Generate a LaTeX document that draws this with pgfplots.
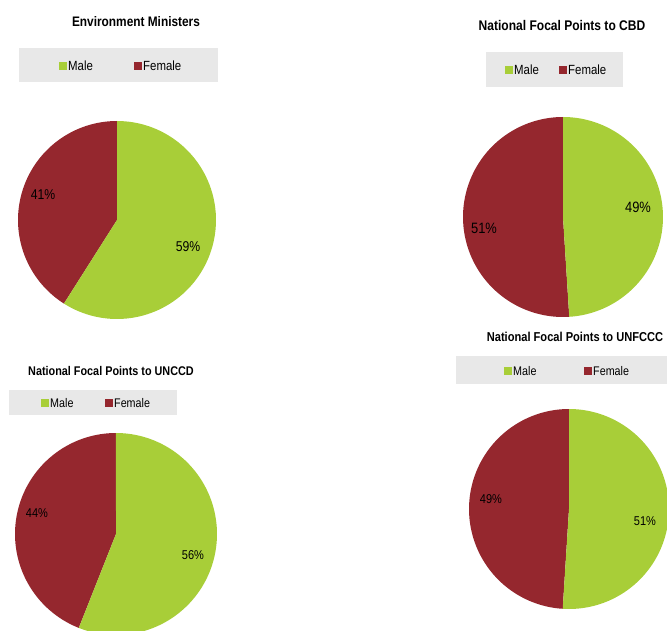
\documentclass[border=0pt]{standalone}
\usepackage{fontspec}
\setmainfont{Liberation Sans}[FakeStretch=0.86]
\usepackage{pgfplots}
\pgfplotsset{compat=1.18}
\definecolor{malec}{HTML}{A8CE38}
\definecolor{femalec}{HTML}{95272E}
\definecolor{legbg}{HTML}{E8E8E8}

% one pie: centre x, centre y, radius, male share (percent)
\newcommand{\pie}[4]{%
  \addplot[draw=none,fill=femalec,domain={90}:{90+3.6*(100-#4)},samples=90]
    ({#1+#3*cos(x)},{#2-#3*sin(x)}) -- (axis cs:#1,#2) -- cycle;
  \addplot[draw=none,fill=malec,domain={90-3.6*#4}:{90},samples=90]
    ({#1+#3*cos(x)},{#2-#3*sin(x)}) -- (axis cs:#1,#2) -- cycle;
}
% legend box: x0,y0,x1,y1, male square x, female square x, square top y, font size
\newcommand{\legbox}[8]{%
  \fill[legbg] (axis cs:#1,#2) rectangle (axis cs:#3,#4);
  \fill[malec] (axis cs:#5,#7) rectangle (axis cs:#5+8,#7+8);
  \node[anchor=west,inner sep=0pt,font=\fontsize{#8}{#8}\selectfont] at (axis cs:#5+9,#7+4) {Male};
  \fill[femalec] (axis cs:#6,#7) rectangle (axis cs:#6+8,#7+8);
  \node[anchor=west,inner sep=0pt,font=\fontsize{#8}{#8}\selectfont] at (axis cs:#6+9,#7+4) {Female};
}
\newcommand{\lab}[4]{\node[inner sep=0pt,font=\fontsize{#3}{#3}\selectfont] at (axis cs:#1,#2) {#4};}
\newcommand{\ttl}[4]{\node[inner sep=0pt,font=\bfseries\fontsize{#3}{#3}\selectfont] at (axis cs:#1,#2) {#4};}

\begin{document}
\begin{tikzpicture}
\begin{axis}[
  scale only axis,width=667pt,height=631pt,
  xmin=0,xmax=667,ymin=0,ymax=631,y dir=reverse,
  hide axis]

% Environment Ministers: 59 / 41
\pie{117}{220}{99}{59}
% National Focal Points to CBD: 49 / 51
\pie{563}{217}{100}{49}
% National Focal Points to UNCCD: 56 / 44
\pie{116}{534}{101}{56}
% National Focal Points to UNFCCC: 51 / 49
\pie{569}{509}{100}{51}

\legbox{19}{48}{218}{82}{59}{134}{62}{13.3}
\legbox{486}{52}{623}{87}{505}{559}{66}{13.3}
\legbox{9}{390}{177}{415}{41}{105}{399}{12.5}
\legbox{456}{356}{667}{384}{504}{584}{367}{12.5}

\ttl{136}{22}{13.8}{Environment Ministers}
\ttl{562}{25}{14}{National Focal Points to CBD}
\ttl{111}{371}{12.6}{National Focal Points to UNCCD}
\ttl{575}{337}{12.9}{National Focal Points to UNFCCC}

\lab{43}{195}{14.2}{41\%}
\lab{188}{247}{14.2}{59\%}
\lab{638}{207}{15}{49\%}
\lab{484}{228}{15}{51\%}
\lab{37}{513}{12.8}{44\%}
\lab{193}{555}{12.8}{56\%}
\lab{491}{499}{12.8}{49\%}
\lab{645}{521}{12.8}{51\%}
\end{axis}
\pgfresetboundingbox
\path (0,0) rectangle (667pt,631pt);
\end{tikzpicture}
\end{document}
